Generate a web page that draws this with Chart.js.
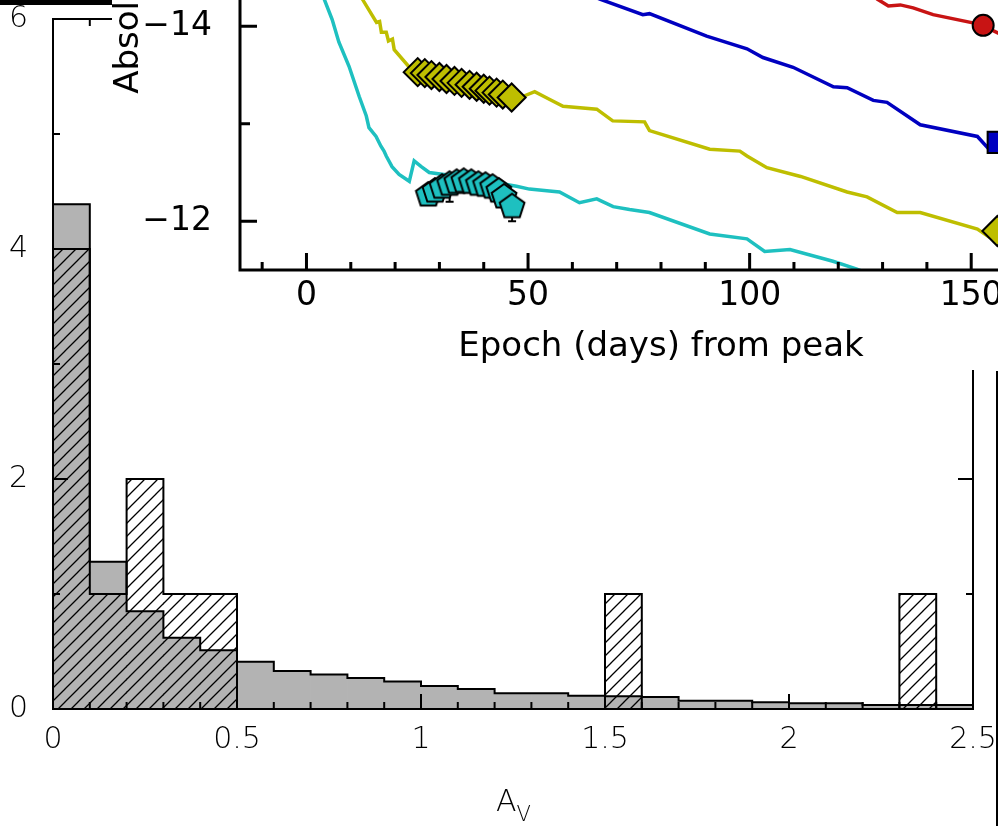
<!DOCTYPE html>
<html>
<head>
<meta charset="utf-8">
<script src="https://cdn.jsdelivr.net/npm/chart.js@4.4.0/dist/chart.umd.min.js"></script>
<style>
  html, body { margin: 0; padding: 0; background: #fff; overflow: hidden; }
  #page { position: relative; width: 998px; height: 826px; overflow: hidden; }
  #hist { position: absolute; left: 0; top: 0; }
  #lc { position: absolute; left: 112px; top: -422px; background: #fff; }
  #topbar { position: absolute; left: 0; top: 0; width: 112px; height: 5px; background: #000; }
  #edge { position: absolute; left: 996px; top: 371px; width: 2px; height: 455px; background: #000; }
  #avlabel { position: absolute; left: 496px; top: 783px; font: 200 30px 'DejaVu Sans'; color: #000; white-space: nowrap; }
  #avlabel span { position: relative; top: 10px; font-size: 21px; }
</style>
</head>
<body>
<div id="page">
  <canvas id="hist" width="998" height="826"></canvas>
  <canvas id="lc" width="970" height="792"></canvas>
  <div id="topbar"></div>
  <div id="edge"></div>
  <div id="avlabel">A<span>V</span></div>
</div>
<script>
// ---- A_V histogram (bins of 0.1) ----
const binStart = [0.0, 0.1, 0.2, 0.3, 0.4, 0.5, 0.6, 0.7, 0.8, 0.9, 1.0, 1.1, 1.2,
                  1.3, 1.4, 1.5, 1.6, 1.7, 1.8, 1.9, 2.0, 2.1, 2.2, 2.3, 2.4]
const binWidth = 0.1
const priorDist = [4.39, 1.28, 0.85, 0.62, 0.51, 0.41, 0.33, 0.30, 0.27, 0.24, 0.20, 0.174, 0.136,
                   0.136, 0.115, 0.11, 0.105, 0.072, 0.072, 0.058, 0.049, 0.049, 0.035, 0.035, 0.035]
const snCounts = [4, 1, 2, 1, 1, 0, 0, 0, 0, 0, 0, 0, 0,
                  0, 0, 1, 0, 0, 0, 0, 0, 0, 0, 1, 0]
const avRange = [0, 2.5]
const avTicks = [0, 0.5, 1, 1.5, 2, 2.5]
const avLabels = ['0', '0.5', '1', '1.5', '2', '2.5']
const countRange = [0, 6]
const countTicks = [0, 2, 4, 6]
const countLabels = ['0', '2', '4', '6']

// ---- light curves (inset) ----
const redDays = [126, 128.8, 131.3, 134.0, 136.9, 141.4, 152.0, 156.1, 162]
const redMag = [-14.42, -14.28, -14.21, -14.22, -14.19, -14.12, -14.02, -13.93, -13.82]
const blueDays = [60, 66.2, 75.9, 77.4, 90.3, 99.4, 103.0, 109.8, 118.9, 122.0, 127.9, 131.0, 138.5, 151.4, 154.0, 160]
const blueMag = [-14.40, -14.28, -14.12, -14.13, -13.90, -13.77, -13.68, -13.58, -13.38, -13.37, -13.24, -13.22, -12.99, -12.87, -12.74, -12.70]
const yellowDays = [9, 12.6, 15.8, 16.5, 16.9, 18.0, 18.5, 19.4, 19.8, 23.6, 35.0, 48.8, 51.5, 54.9, 57.9, 65.5,
                    69.1, 76.3, 77.4, 91.0, 97.8, 99.4, 103.9, 111.5, 122.0, 126.5, 133.3, 138.5, 151.4, 154.0, 162]
const yellowMag = [-14.65, -14.28, -14.04, -14.05, -13.94, -13.94, -13.85, -13.87, -13.76, -13.56, -13.42, -13.28, -13.33, -13.25, -13.18, -13.15,
                   -13.03, -13.02, -12.93, -12.74, -12.72, -12.67, -12.55, -12.46, -12.30, -12.25, -12.09, -12.09, -11.92, -11.84, -11.75]
const cyanDays = [3, 4.0, 5.8, 7.3, 9.6, 11.9, 13.5, 14.1, 15.7, 16.8, 17.5, 18.0, 19.3, 20.9, 23.2, 24.3, 25.9, 27.7,
                  36.0, 47.4, 50.3, 54.8, 57.1, 61.6, 65.5, 69.2, 72.9, 77.4, 91.0, 99.4, 103.4, 109.1, 118.8, 124.2, 130]
const cyanMag = [-14.42, -14.28, -14.07, -13.84, -13.59, -13.28, -13.08, -12.96, -12.87, -12.77, -12.72, -12.67, -12.56, -12.48, -12.41, -12.62, -12.56, -12.50,
                 -12.45, -12.36, -12.33, -12.31, -12.30, -12.19, -12.23, -12.15, -12.12, -12.09, -11.87, -11.82, -11.69, -11.71, -11.59, -11.51, -11.40]

// observed photometry
const yellowObsDays = [25.1, 26.7, 28.2, 30.0, 31.6, 33.4, 35.0, 36.8, 38.4, 40.0, 41.3, 42.9, 44.3, 46.3]
const yellowObsMag = [-13.53, -13.52, -13.50, -13.48, -13.46, -13.44, -13.42, -13.40, -13.38, -13.36, -13.34, -13.32, -13.30, -13.27]
const cyanObsDays = [27.5, 29.0, 30.6, 32.3, 33.9, 35.5, 37.2, 38.8, 40.4, 42.0, 43.4, 44.6, 46.4]
const cyanObsMag = [-12.29, -12.33, -12.37, -12.40, -12.42, -12.43, -12.42, -12.40, -12.39, -12.37, -12.33, -12.27, -12.17]
const cyanObsErrUp = [0.06, 0.06, 0.06, 0.08, 0.06, 0.06, 0.06, 0.06, 0.06, 0.06, 0.06, 0.06, 0.08]
const cyanObsErrDown = [0.06, 0.06, 0.06, 0.2, 0.06, 0.06, 0.06, 0.06, 0.06, 0.06, 0.06, 0.06, 0.17]
const redLateDays = [152.7]
const redLateMag = [-14.01]
const blueLateDays = [156.1]
const blueLateMag = [-12.81]
const yellowLateDays = [155.9]
const yellowLateMag = [-11.90]

const epochRange = [-15, 175]
const epochTicks = [0, 50, 100, 150]
const epochLabels = ['0', '50', '100', '150']
const magRange = [-18.6, -11.5]
const magTicks = [-18, -16, -14, -12]
const magLabels = ['\u221218', '\u221216', '\u221214', '\u221212']

const RED = '#c81414', BLUE = '#0000c0', YELLOW = '#bebe00', CYAN = '#1ec0c0'

const pairs = (xs, ys) => xs.map((x, i) => ({x: x, y: ys[i]}))
const range = (a, b, step) => {
    let out = []
    for (let v = a; v <= b + 1e-9; v += step) out.push(+v.toFixed(4))
    return out
}

// keep the plot box where the layout padding puts it
const noLabelPadding = (s) => {
    s.paddingTop = 0; s.paddingBottom = 0
    s.paddingLeft = 0; s.paddingRight = 0
}

// fixed tick list and fixed limits for an axis
const fixedTicks = (vals, lims) => (s) => {
    s.ticks = vals.map(v => ({value: v}))
    s.min = lims[0]
    s.max = lims[1]
}

// inward-pointing ticks on all four sides plus the frame
const frameTicks = {
    id: 'frameTicks',
    afterDatasetsDraw(chart, args, o) {
        const {ctx, chartArea: a, scales: {x, y}} = chart
        ctx.save()
        ctx.strokeStyle = '#000'
        ctx.lineWidth = o.width
        ctx.beginPath()
        const mark = (vals, len, horiz) => vals.forEach(v => {
            if (horiz) {
                const px = x.getPixelForValue(v)
                ctx.moveTo(px, a.bottom); ctx.lineTo(px, a.bottom - len)
                ctx.moveTo(px, a.top); ctx.lineTo(px, a.top + len)
            } else {
                const py = y.getPixelForValue(v)
                ctx.moveTo(a.left, py); ctx.lineTo(a.left + len, py)
                ctx.moveTo(a.right, py); ctx.lineTo(a.right - len, py)
            }
        })
        mark(o.xMinor, o.xMinorLen, true)
        mark(o.xMajor, o.xMajorLen, true)
        mark(o.yMinor, o.yMinorLen, false)
        mark(o.yMajor, o.yMajorLen, false)
        ctx.stroke()
        ctx.strokeRect(a.left, a.top, a.right - a.left, a.bottom - a.top)
        ctx.restore()
    }
}

// vertical error bars, drawn underneath the markers
const errorBars = {
    id: 'errorBars',
    beforeDatasetsDraw(chart, args, o) {
        const {ctx, scales: {x, y}} = chart
        ctx.save()
        ctx.strokeStyle = '#000'
        ctx.lineWidth = 2
        ctx.beginPath()
        o.days.forEach((d, i) => {
            const px = x.getPixelForValue(d)
            const lo = y.getPixelForValue(o.mag[i] - o.up[i])
            const hi = y.getPixelForValue(o.mag[i] + o.down[i])
            ctx.moveTo(px, lo); ctx.lineTo(px, hi)
            ctx.moveTo(px - 4, lo); ctx.lineTo(px + 4, lo)
            ctx.moveTo(px - 4, hi); ctx.lineTo(px + 4, hi)
        })
        ctx.stroke()
        ctx.restore()
    }
}

const makeHatch = (ctx) => {
    const s = 13
    const tile = document.createElement('canvas')
    tile.width = s; tile.height = s
    const g = tile.getContext('2d')
    g.strokeStyle = '#000'
    g.lineWidth = 1.3
    g.beginPath()
    g.moveTo(-1, s + 1); g.lineTo(s + 1, -1)
    g.moveTo(-2, 2); g.lineTo(2, -2)
    g.moveTo(s - 2, s + 2); g.lineTo(s + 2, s - 2)
    g.stroke()
    return ctx.createPattern(tile, 'repeat')
}

const makePentagon = (r, fill) => {
    const size = Math.ceil(2 * r + 6)
    const c = document.createElement('canvas')
    c.width = size; c.height = size
    const g = c.getContext('2d')
    g.beginPath()
    for (let k = 0; k < 5; k++) {
        const ang = -Math.PI / 2 + k * 2 * Math.PI / 5
        g.lineTo(size / 2 + r * Math.cos(ang), size / 2 + 2 + r * Math.sin(ang))
    }
    g.closePath()
    g.fillStyle = fill
    g.fill()
    g.lineWidth = 2
    g.strokeStyle = '#000'
    g.stroke()
    return c
}

// step outline through the bin tops
const stepOutline = (vals) => {
    let pts = [{x: binStart[0], y: 0}]
    vals.forEach((v, i) => pts.push({x: binStart[i], y: v}))
    const end = binStart[binStart.length - 1] + binWidth
    pts.push({x: end, y: vals[vals.length - 1]})
    pts.push({x: end, y: 0})
    return pts
}

const mainFont = {family: 'DejaVu Sans', size: 30, weight: 200}
const insetFont = {family: 'DejaVu Sans', size: 33}

const plotHistogram = () => {
    const canvas = document.getElementById('hist')
    const ctx = canvas.getContext('2d')
    const centers = binStart.map(b => +(b + binWidth / 2).toFixed(3))
    new Chart(ctx, {
        type: 'bar',
        data: {
            datasets: [
                {
                    type: 'line', label: 'sn outline', data: stepOutline(snCounts), stepped: true,
                    borderColor: '#000', borderWidth: 2, pointRadius: 0, fill: false, order: 1
                },
                {
                    type: 'line', label: 'prior outline', data: stepOutline(priorDist), stepped: true,
                    borderColor: '#000', borderWidth: 2, pointRadius: 0, fill: false, order: 2
                },
                {
                    label: 'sn', data: centers.map((c, i) => ({x: c, y: snCounts[i] > 0 ? snCounts[i] : null})),
                    backgroundColor: makeHatch(ctx), borderWidth: 0, order: 3,
                    barPercentage: 1, categoryPercentage: 1, grouped: false
                },
                {
                    label: 'prior', data: centers.map((c, i) => ({x: c, y: priorDist[i]})),
                    backgroundColor: '#b3b3b3', borderWidth: 0, order: 4,
                    barPercentage: 1, categoryPercentage: 1, grouped: false
                }
            ]
        },
        options: {
            responsive: false,
            animation: false,
            events: [],
            layout: {padding: {top: 19, right: 25, left: 0, bottom: 0}, autoPadding: false},
            plugins: {
                legend: {display: false},
                tooltip: {enabled: false},
                frameTicks: {
                    width: 2,
                    xMajor: avTicks, xMajorLen: 15,
                    xMinor: range(0, 2.5, 0.1), xMinorLen: 7,
                    yMajor: countTicks, yMajorLen: 15,
                    yMinor: range(1, 5, 2), yMinorLen: 7
                }
            },
            scales: {
                x: {
                    type: 'linear', min: avRange[0], max: avRange[1], offset: false,
                    grid: {display: false, drawTicks: false},
                    border: {display: false},
                    afterFit: s => { s.height = 117; noLabelPadding(s) },
                    afterBuildTicks: fixedTicks(avTicks, avRange),
                    ticks: {padding: 13, color: '#000', font: mainFont, maxRotation: 0, autoSkip: false,
                            callback: (v, i) => avLabels[i]}
                },
                y: {
                    type: 'linear', min: countRange[0], max: countRange[1],
                    grid: {display: false, drawTicks: false},
                    border: {display: false},
                    afterFit: s => { s.width = 53; noLabelPadding(s) },
                    afterBuildTicks: fixedTicks(countTicks, countRange),
                    ticks: {padding: 25, color: '#000', font: mainFont, callback: (v, i) => countLabels[i]}
                }
            }
        },
        plugins: [frameTicks]
    })
}

const plotLightCurves = () => {
    const ctx = document.getElementById('lc').getContext('2d')
    const curve = (label, xs, ys, color) => ({
        type: 'line', label: label, data: pairs(xs, ys), borderColor: color, borderWidth: 3.5,
        pointRadius: 0, fill: false, tension: 0
    })
    new Chart(ctx, {
        type: 'line',
        data: {
            datasets: [
                {label: 'red obs', data: pairs(redLateDays, redLateMag), showLine: false, pointStyle: 'circle',
                 pointRadius: 10.5, backgroundColor: RED, borderColor: '#000', borderWidth: 2},
                {label: 'blue obs', data: pairs(blueLateDays, blueLateMag), showLine: false, pointStyle: 'rect',
                 pointRadius: 15, backgroundColor: BLUE, borderColor: '#000', borderWidth: 2},
                {label: 'yellow late', data: pairs(yellowLateDays, yellowLateMag), showLine: false, pointStyle: 'rectRot',
                 pointRadius: 15, backgroundColor: YELLOW, borderColor: '#000', borderWidth: 2},
                {label: 'cyan obs', data: pairs(cyanObsDays, cyanObsMag), showLine: false,
                 pointStyle: makePentagon(13, CYAN), pointRadius: 13},
                {label: 'yellow obs', data: pairs(yellowObsDays, yellowObsMag), showLine: false, pointStyle: 'rectRot',
                 pointRadius: 14, backgroundColor: YELLOW, borderColor: '#000', borderWidth: 2},
                curve('red', redDays, redMag, RED),
                curve('blue', blueDays, blueMag, BLUE),
                curve('yellow', yellowDays, yellowMag, YELLOW),
                curve('cyan', cyanDays, cyanMag, CYAN)
            ]
        },
        options: {
            responsive: false,
            animation: false,
            events: [],
            layout: {padding: 0, autoPadding: false},
            plugins: {
                legend: {display: false},
                tooltip: {enabled: false},
                errorBars: {days: cyanObsDays, mag: cyanObsMag, up: cyanObsErrUp, down: cyanObsErrDown},
                frameTicks: {
                    width: 3,
                    xMajor: range(0, 150, 50), xMajorLen: 17,
                    xMinor: range(-10, 170, 10), xMinorLen: 8,
                    yMajor: magTicks, yMajorLen: 17,
                    yMinor: range(-17, -13, 2), yMinorLen: 10
                }
            },
            scales: {
                x: {
                    type: 'linear', min: epochRange[0], max: epochRange[1],
                    grid: {display: false, drawTicks: false},
                    border: {display: false},
                    afterFit: s => { s.height = 100; noLabelPadding(s) },
                    afterBuildTicks: fixedTicks(epochTicks, epochRange),
                    ticks: {padding: 7, color: '#000', font: insetFont, maxRotation: 0, autoSkip: false,
                            callback: (v, i) => epochLabels[i]},
                    title: {display: true, text: 'Epoch (days) from peak', color: '#000',
                            font: {family: 'DejaVu Sans', size: 34}, padding: {top: 0, bottom: 2}}
                },
                y: {
                    type: 'linear', min: magRange[0], max: magRange[1], reverse: true,
                    grid: {display: false, drawTicks: false},
                    border: {display: false},
                    afterFit: s => { s.width = 128; noLabelPadding(s) },
                    afterBuildTicks: fixedTicks(magTicks, magRange),
                    ticks: {padding: 28, color: '#000', font: insetFont, callback: (v, i) => magLabels[i]},
                    title: {display: true, text: 'Absolute Magnitude', color: '#000',
                            font: {family: 'DejaVu Sans', size: 34, lineHeight: 1}, padding: 0}
                }
            }
        },
        plugins: [errorBars, frameTicks]
    })
}

plotHistogram()
plotLightCurves()
</script>
</body>
</html>
